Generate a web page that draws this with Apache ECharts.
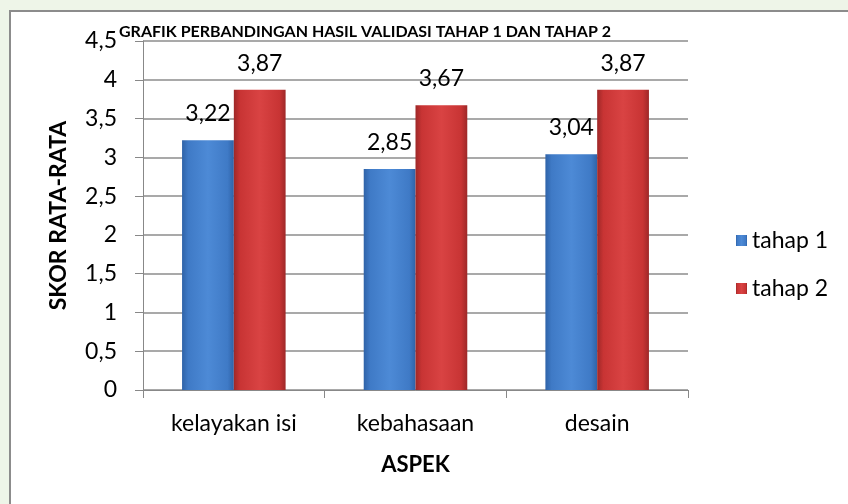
<!DOCTYPE html>
<html>
<head>
<meta charset="utf-8">
<script src="https://cdn.jsdelivr.net/npm/echarts@6/dist/echarts.min.js"></script>
<style>
html,body{margin:0;padding:0;background:#eef5e8;}
#chart{width:848px;height:504px;}
</style>
</head>
<body>
<div id="chart"></div>
<script>
var categories = ['kelayakan isi', 'kebahasaan', 'desain'];
var tahap1 = [3.22, 2.85, 3.04];
var tahap2 = [3.87, 3.67, 3.87];
var seriesNames = ['tahap 1', 'tahap 2'];
var titleText = 'GRAFIK PERBANDINGAN HASIL VALIDASI TAHAP 1 DAN TAHAP 2';
var yAxisName = 'SKOR RATA-RATA';
var xAxisName = 'ASPEK';

var FONT = 'Lato';
function comma(v){ return String(v).replace('.', ','); }
function barGrad(edge, mid, light){
  return new echarts.graphic.LinearGradient(0,0,1,0,[
    {offset:0,color:edge},{offset:0.12,color:mid},{offset:0.5,color:light},{offset:0.88,color:mid},{offset:1,color:edge}
  ]);
}
var chart = echarts.init(document.getElementById('chart'), null, {renderer:'canvas'});
var labelCfg = {
  show:true, position:'top', distance:15,
  fontFamily:FONT, fontSize:23, color:'#000',
  formatter:function(p){ return p.value.toFixed(2).replace('.', ','); }
};
chart.setOption({
  backgroundColor:'#eef5e8',
  animation:false,
  graphic:[{
    type:'rect', z:-10,
    shape:{x:10,y:11,width:845,height:500},
    style:{fill:'#ffffff', stroke:'#8c8c8c', lineWidth:2}
  }],
  title:{
    text:titleText, left:114, top:19,
    textStyle:{fontFamily:FONT, fontWeight:'bold', fontSize:16, color:'#000'}
  },
  legend:{
    orient:'vertical', left:731, top:224,
    itemWidth:11, itemHeight:11, itemGap:25, icon:'rect',
    textStyle:{fontFamily:FONT, fontSize:23, color:'#000'},
    data:seriesNames
  },
  grid:{left:143, right:160, top:41, bottom:114},
  xAxis:{
    type:'category', data:categories,
    name:xAxisName, nameLocation:'middle', nameGap:64,
    nameTextStyle:{fontFamily:FONT, fontWeight:'bold', fontSize:22, color:'#000'},
    axisLine:{lineStyle:{color:'#888', width:1}},
    axisTick:{show:true, length:8, lineStyle:{color:'#888'}},
    axisLabel:{fontFamily:FONT, fontSize:23, color:'#000', margin:22}
  },
  yAxis:{
    type:'value', min:0, max:4.5, interval:0.5,
    name:yAxisName, nameLocation:'middle', nameGap:73, nameRotate:90,
    nameTextStyle:{fontFamily:FONT, fontWeight:'bold', fontSize:23, color:'#000'},
    axisLine:{show:true, lineStyle:{color:'#888', width:1}},
    axisTick:{show:true, length:8, lineStyle:{color:'#888'}},
    splitLine:{show:true, lineStyle:{color:'#8c8c8c', width:1.5}},
    axisLabel:{fontFamily:FONT, fontSize:23, color:'#000', margin:26, formatter:comma}
  },
  series:[
    {name:seriesNames[0], type:'bar', data:tahap1, barGap:'0%', barCategoryGap:'43%',
     itemStyle:{color:barGrad('#2f63a8','#3f7ac6','#4d8ad6')}, label:labelCfg},
    {name:seriesNames[1], type:'bar', data:tahap2,
     itemStyle:{color:barGrad('#9e2828','#c83434','#d94343')}, label:labelCfg}
  ]
});
</script>
</body>
</html>
